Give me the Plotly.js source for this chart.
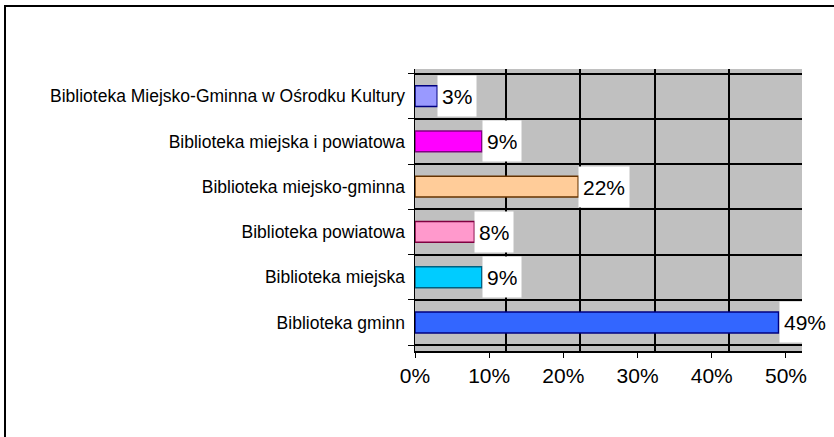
<!DOCTYPE html>
<html>
<head>
<meta charset="utf-8">
<script src="https://cdn.plot.ly/plotly-3.0.1.min.js"></script>
<style>
  html, body { margin: 0; padding: 0; background: #fff; }
  #wrap { position: relative; width: 834px; height: 437px; overflow: hidden; }
  #chart { position: absolute; left: 0; top: 0; width: 834px; height: 437px; }
  #frame { position: absolute; left: 4px; top: 5px; width: 840px; height: 440px;
           border-left: 2px solid #000; border-top: 2px solid #000; pointer-events: none; }
</style>
</head>
<body>
<div id="wrap">
  <div id="chart"></div>
  <div id="frame"></div>
</div>
<script>
// Data (bottom to top, as drawn)
const categories = [
  'Biblioteka gminn',
  'Biblioteka miejska',
  'Biblioteka powiatowa',
  'Biblioteka miejsko-gminna',
  'Biblioteka miejska i powiatowa',
  'Biblioteka Miejsko-Gminna w Ośrodku Kultury'
];
const values = [49, 9, 8, 22, 9, 3];
const barColors = ['#3366ff', '#00ccff', '#ff99cc', '#ffcc99', '#ff00ff', '#9999ff'];
const barEdges  = ['#000080', '#006080', '#800040', '#663300', '#800080', '#000080'];
const tickValues = [0, 10, 20, 30, 40, 50];
const tickLabels = ['0%', '10%', '20%', '30%', '40%', '50%'];

const FONT = '"Liberation Sans", Arial, sans-serif';
// the back wall of the 3-D chart sits a little right of the front axis
const DEPTH = 2.3;
const backGrid = tickValues.slice(1).map(v => v + DEPTH);

const trace = {
  type: 'bar',
  orientation: 'h',
  y: categories,
  x: values,
  width: 0.46,
  marker: { color: barColors, line: { color: barEdges, width: 1.5 } },
  hoverinfo: 'x+y'
};

const annotations = values.map((v, i) => ({
  x: v,
  y: categories[i],
  xref: 'x',
  yref: 'y',
  text: v + '%',
  showarrow: false,
  xanchor: 'left',
  yanchor: 'middle',
  bgcolor: '#ffffff',
  borderpad: 4,
  height: 32,
  font: { family: FONT, size: 21, color: '#000' }
}));

const layout = {
  width: 834,
  height: 437,
  margin: { l: 415, r: 32, t: 69, b: 86, pad: 0 },
  paper_bgcolor: '#ffffff',
  plot_bgcolor: '#c0c0c0',
  showlegend: false,
  font: { family: FONT, color: '#000' },
  xaxis: {
    range: [0, 52.16],
    tickvals: tickValues,
    ticktext: tickLabels,
    showgrid: false,
    zeroline: false,
    showline: true,
    linecolor: '#000',
    linewidth: 1.5,
    ticks: 'outside',
    ticklen: 5,
    tickcolor: '#000',
    tickfont: { family: FONT, size: 21, color: '#000' },
    minor: {
      tickmode: 'array',
      tickvals: backGrid,
      showgrid: true,
      gridcolor: '#000',
      gridwidth: 2,
      ticks: ''
    },
    fixedrange: true
  },
  yaxis: {
    type: 'category',
    range: [-0.63, 5.60],
    tickson: 'boundaries',
    showgrid: true,
    gridcolor: '#000',
    gridwidth: 2,
    zeroline: false,
    showline: true,
    linecolor: '#000',
    linewidth: 1.5,
    ticks: 'outside',
    ticklen: 6,
    tickcolor: '#000',
    ticklabelstandoff: 5,
    tickfont: { family: FONT, size: 17.5, color: '#000' },
    fixedrange: true
  },
  annotations: annotations
};

Plotly.newPlot('chart', [trace], layout, { displayModeBar: false, staticPlot: true });
</script>
</body>
</html>
